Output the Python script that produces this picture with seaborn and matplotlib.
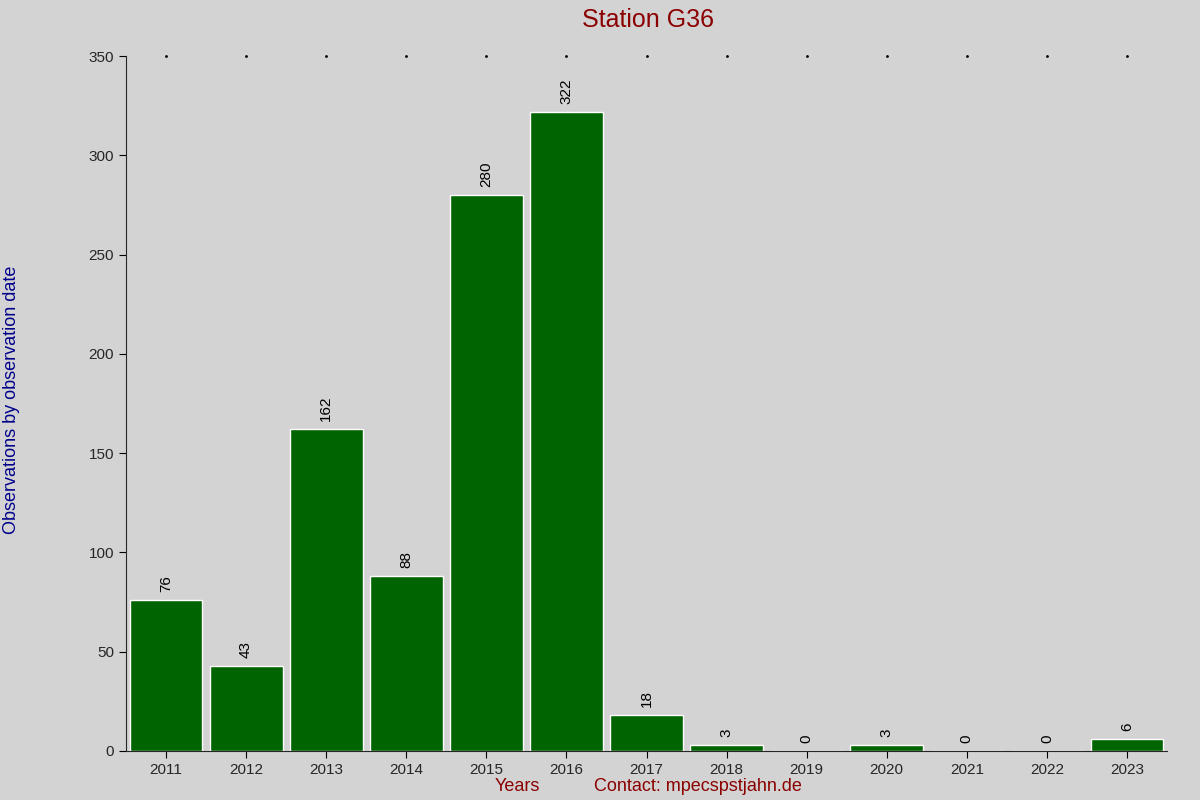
import matplotlib
matplotlib.use("Agg")
import matplotlib.pyplot as plt
import seaborn as sns
import pandas as pd

years = ["2011", "2012", "2013", "2014", "2015", "2016", "2017",
         "2018", "2019", "2020", "2021", "2022", "2023"]
counts = [76, 43, 162, 88, 280, 322, 18, 3, 0, 3, 0, 0, 6]

df = pd.DataFrame({"year": years, "count": counts})

sns.set_style("ticks")
plt.rcParams["font.family"] = ["Liberation Sans", "DejaVu Sans"]

fig = plt.figure(figsize=(12, 8), dpi=100, facecolor="#d3d3d3")
ax = fig.add_axes([0.105, 0.06125, 0.8675, 0.86875])
ax.set_facecolor("#d3d3d3")

sns.barplot(data=df, x="year", y="count", color="#006400", saturation=1,
            width=0.91, ax=ax)

for i, v in enumerate(counts):
    ax.text(i, v + 4, str(v), rotation=90, ha="center", va="bottom",
            fontsize=11, color="black")

ax.set_xlim(-0.5, 12.5)
ax.set_ylim(0, 350)
ax.set_yticks(range(0, 351, 50))
ax.tick_params(labelsize=11, length=5, color="black")
for s in ["top", "right"]:
    ax.spines[s].set_visible(False)

# small dots along the top at each category
ax.scatter(range(len(years)), [350] * len(years), s=1, color="black",
           clip_on=False)

ax.set_xlabel("")
ax.set_ylabel("")
fig.text(0.54, 0.975, "Station G36", ha="center", va="center",
         fontsize=18, color="#8b0000")
fig.text(0.01, 0.5, "Observations by observation date", rotation=90,
         ha="center", va="center", fontsize=13, color="#00008b")
fig.text(0.431, 0.017, "Years", ha="center", va="center",
         fontsize=13, color="#8b0000")
fig.text(0.582, 0.017, "Contact: mpecspstjahn.de", ha="center",
         va="center", fontsize=13, color="#8b0000")

fig.savefig("out.png", facecolor=fig.get_facecolor())
